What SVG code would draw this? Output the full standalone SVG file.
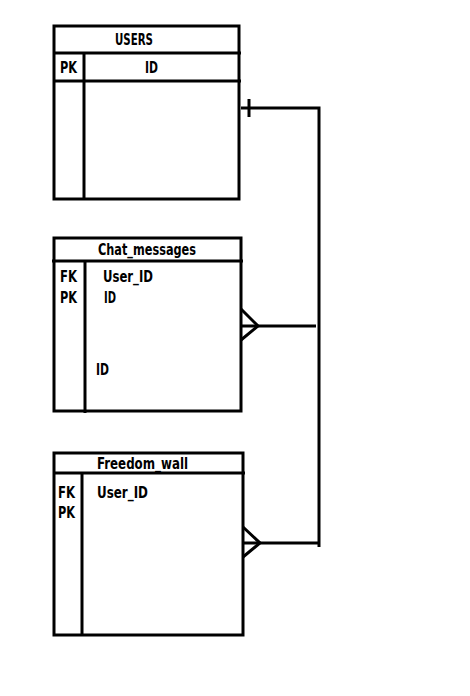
<svg xmlns="http://www.w3.org/2000/svg" width="470" height="696" viewBox="0 0 470 696">
  <style>
    .ln { stroke: #000; stroke-width: 3; fill: none; }
    .box { stroke: #000; stroke-width: 3; fill: #fff; }
    text { font-family: "DejaVu Sans Condensed", "Liberation Sans", sans-serif; font-weight: bold; font-size: 15px; fill: #000; }
  </style>
  <rect width="470" height="696" fill="#fff"/>

  <g id="users">
    <rect class="box" x="54" y="26" width="185" height="173"/>
    <line class="ln" x1="54" y1="53" x2="241" y2="53"/>
    <line class="ln" x1="54" y1="81" x2="241" y2="81"/>
    <line class="ln" x1="84" y1="53" x2="84" y2="199"/>
    <text x="115" y="45" textLength="38" lengthAdjust="spacingAndGlyphs">USERS</text>
    <text x="60" y="73" textLength="17" lengthAdjust="spacingAndGlyphs">PK</text>
    <text x="145" y="73" textLength="13" lengthAdjust="spacingAndGlyphs">ID</text>
  </g>

  <g id="chat_messages">
    <rect class="box" x="54" y="238" width="187" height="173"/>
    <line class="ln" x1="52" y1="261" x2="243" y2="261"/>
    <line class="ln" x1="85" y1="261" x2="85" y2="413"/>
    <text x="98" y="255" textLength="98" lengthAdjust="spacingAndGlyphs">Chat_messages</text>
    <text x="60" y="282" textLength="17" lengthAdjust="spacingAndGlyphs">FK</text>
    <text x="60" y="303" textLength="17" lengthAdjust="spacingAndGlyphs">PK</text>
    <text x="103" y="282" textLength="50" lengthAdjust="spacingAndGlyphs">User_ID</text>
    <text x="104" y="303" textLength="12" lengthAdjust="spacingAndGlyphs">ID</text>
    <text x="96" y="375" textLength="13" lengthAdjust="spacingAndGlyphs">ID</text>
  </g>

  <g id="freedom_wall">
    <rect class="box" x="54" y="453" width="189" height="182"/>
    <line class="ln" x1="54" y1="473" x2="245" y2="473"/>
    <line class="ln" x1="82" y1="473" x2="82" y2="635"/>
    <text x="97" y="469" textLength="91" lengthAdjust="spacingAndGlyphs">Freedom_wall</text>
    <text x="58" y="498" textLength="17" lengthAdjust="spacingAndGlyphs">FK</text>
    <text x="58" y="518" textLength="17" lengthAdjust="spacingAndGlyphs">PK</text>
    <text x="97" y="498" textLength="51" lengthAdjust="spacingAndGlyphs">User_ID</text>
  </g>

  <g id="connectors">
    <!-- one side at USERS -->
    <polyline class="ln" points="241,108 319,108 319,547"/>
    <line class="ln" x1="249" y1="99" x2="249" y2="117"/>
    <!-- many side at Chat_messages -->
    <line class="ln" x1="242" y1="326" x2="316" y2="326"/>
    <polyline class="ln" points="241,309 258,326 241,340"/>
    <!-- many side at Freedom_wall -->
    <line class="ln" x1="243" y1="543" x2="319" y2="543"/>
    <polyline class="ln" points="243,527 260,543 243,557"/>
  </g>
</svg>
